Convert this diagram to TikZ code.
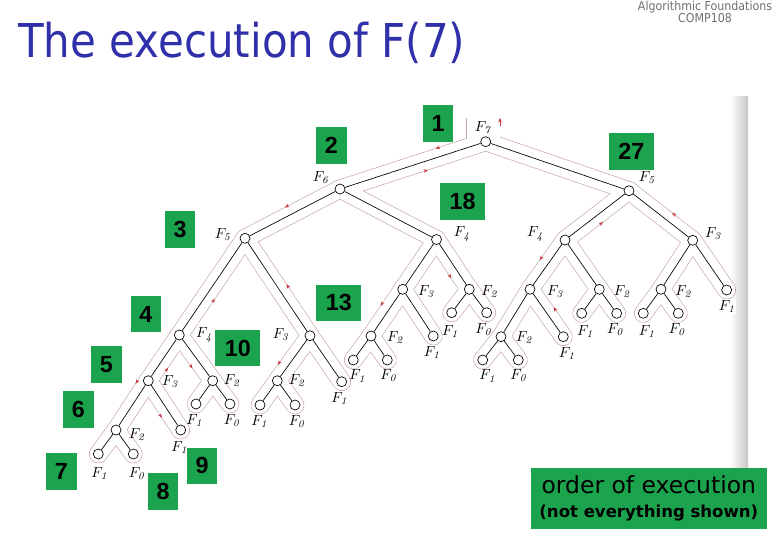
\documentclass[tikz,border=0pt]{standalone}
\usepackage{fontspec}
\newfontfamily\titlefont[FakeStretch=0.9]{DejaVu Sans}
\newfontfamily\numfont{Liberation Sans}
\newfontfamily\notefont{DejaVu Sans}
\usetikzlibrary{calc,arrows.meta,decorations.markings,backgrounds}
\definecolor{titleblue}{RGB}{48,48,170}
\definecolor{headgray}{RGB}{110,110,110}
\definecolor{boxgreen}{RGB}{28,163,78}
\definecolor{tourpink}{RGB}{200,165,170}
\definecolor{tourred}{RGB}{200,50,60}
\newcommand{\Fsub}[1]{$F_{\mathit{#1}}$}
% little red arrows on the tour: left side goes down, right side goes up
\newcommand{\tourdown}[3]{\path[decorate,decoration={markings,mark=at position #3 with {\draw[tourarr] (-2.5pt,-6.75pt) -- (0.5pt,-6.75pt);}}] (#1.center) -- (#2.center);}
\newcommand{\tourup}[3]{\path[decorate,decoration={markings,mark=at position #3 with {\draw[tourarr] (2.5pt,6.75pt) -- (-0.5pt,6.75pt);}}] (#1.center) -- (#2.center);}
\def\treeedges{v1/v2,v1/v3,v2/v4,v2/v5,v3/v6,v3/v7,v4/v8,v4/v9,v5/v10,v5/v11,v6/v12,v6/v13,v7/v14,v7/v15,v8/v16,v8/v17,v9/v18,v9/v19,v10/v20,v10/v21,v11/v22,v11/v23,v12/v24,v12/v25,v13/v26,v13/v27,v14/v28,v14/v29,v16/v30,v16/v31,v17/v32,v17/v33,v18/v34,v18/v35,v20/v36,v20/v37,v24/v38,v24/v39,v30/v40,v30/v41}
\begin{document}
\begin{tikzpicture}[x=0.75pt,y=-0.75pt,
  vert/.style={draw,circle,fill=white,line width=0.5pt,minimum size=7.5pt,inner sep=0pt},
  fib/.style={font=\fontsize{11}{13}\selectfont,inner sep=0pt},
  ordbox/.style={fill=boxgreen,minimum width=22.9pt,minimum height=27.4pt,inner sep=0pt,font=\numfont\bfseries\fontsize{17.5}{20}\selectfont},
  ordboxw/.style={ordbox,minimum width=33.8pt},
  tubeout/.style={draw=tourpink,line width=14pt,line cap=round,line join=round},
  tubein/.style={draw=white,line width=13pt,line cap=round,line join=round},
  tourarr/.style={draw=tourred,line width=0.4pt,-{Stealth[length=3.2pt,width=2.6pt]}}]
\useasboundingbox (0,0) rectangle (780,540);

\node[anchor=base west,inner sep=0pt,text=titleblue,font=\titlefont\fontsize{35}{40}\selectfont] (title) at (18,57) {The execution of F(7)};
\node[anchor=north,align=center,inner sep=0pt,text=headgray,font=\titlefont\fontsize{9.2}{9.3}\selectfont] (course) at (705,1) {Algorithmic Foundations\\COMP108};

% the recursion tree
\node[vert] (v1) at (485.7,141.7) {};
\node[vert] (v2) at (340,189) {};
\node[vert] (v3) at (629,190.7) {};
\node[vert] (v4) at (245,238.3) {};
\node[vert] (v5) at (436.5,239.5) {};
\node[vert] (v6) at (565,240) {};
\node[vert] (v7) at (692.7,240.3) {};
\node[vert] (v8) at (179.3,335) {};
\node[vert] (v9) at (310,335.7) {};
\node[vert] (v10) at (402.7,289.3) {};
\node[vert] (v11) at (469.3,289.3) {};
\node[vert] (v12) at (530,289.3) {};
\node[vert] (v13) at (599.3,289.3) {};
\node[vert] (v14) at (661,289.3) {};
\node[vert] (v15) at (726.7,290) {};
\node[vert] (v16) at (148.3,380.7) {};
\node[vert] (v17) at (212.7,380.7) {};
\node[vert] (v18) at (277.3,380.7) {};
\node[vert] (v19) at (341.7,381.7) {};
\node[vert] (v20) at (371,336) {};
\node[vert] (v21) at (433.3,336) {};
\node[vert] (v22) at (451.7,312.7) {};
\node[vert] (v23) at (486.7,312.7) {};
\node[vert] (v24) at (501,336.7) {};
\node[vert] (v25) at (563.3,336.7) {};
\node[vert] (v26) at (581.7,313.3) {};
\node[vert] (v27) at (616.7,313.3) {};
\node[vert] (v28) at (643.3,313.3) {};
\node[vert] (v29) at (678.3,313.3) {};
\node[vert] (v30) at (116,430) {};
\node[vert] (v31) at (180.7,430) {};
\node[vert] (v32) at (196,404) {};
\node[vert] (v33) at (230,404) {};
\node[vert] (v34) at (260,405) {};
\node[vert] (v35) at (295,405) {};
\node[vert] (v36) at (353.3,360) {};
\node[vert] (v37) at (387.3,360) {};
\node[vert] (v38) at (482.7,360) {};
\node[vert] (v39) at (518.3,360) {};
\node[vert] (v40) at (98.3,454) {};
\node[vert] (v41) at (133.3,454) {};
\foreach \a/\b in \treeedges
  \draw[line width=0.5pt] (\a)--(\b);

% labels
\node[fib] (f1) at (482.7,128) {\Fsub{7}};
\node[fib] (f2) at (320.7,178) {\Fsub{6}};
\node[fib] (f3) at (646.7,178) {\Fsub{5}};
\node[fib] (f4) at (222.7,234.3) {\Fsub{5}};
\node[fib] (f5) at (461.7,234) {\Fsub{4}};
\node[fib] (f6) at (535,234) {\Fsub{4}};
\node[fib] (f7) at (713,234) {\Fsub{3}};
\node[fib] (f8) at (204,335) {\Fsub{4}};
\node[fib] (f9) at (280.7,335) {\Fsub{3}};
\node[fib] (f10) at (426,291.7) {\Fsub{3}};
\node[fib] (f11) at (489.3,291.7) {\Fsub{2}};
\node[fib] (f12) at (555,291.7) {\Fsub{3}};
\node[fib] (f13) at (621.7,291.7) {\Fsub{2}};
\node[fib] (f14) at (683.3,291.7) {\Fsub{2}};
\node[fib,fill=white,inner sep=1pt] (f15) at (726.7,306.7) {\Fsub{1}};
\node[fib] (f16) at (170,381.7) {\Fsub{3}};
\node[fib] (f17) at (231.7,380.7) {\Fsub{2}};
\node[fib] (f18) at (296.7,380.7) {\Fsub{2}};
\node[fib] (f19) at (339.3,398.3) {\Fsub{1}};
\node[fib] (f20) at (395,337.3) {\Fsub{2}};
\node[fib] (f21) at (431.7,352.7) {\Fsub{1}};
\node[fib] (f22) at (450,331.7) {\Fsub{1}};
\node[fib] (f23) at (483.3,330) {\Fsub{0}};
\node[fib] (f24) at (524,337.3) {\Fsub{2}};
\node[fib] (f25) at (566.7,353.3) {\Fsub{1}};
\node[fib] (f26) at (585,331.7) {\Fsub{1}};
\node[fib] (f27) at (615,330) {\Fsub{0}};
\node[fib] (f28) at (646.7,331.7) {\Fsub{1}};
\node[fib] (f29) at (676.7,330) {\Fsub{0}};
\node[fib] (f30) at (136.7,435) {\Fsub{2}};
\node[fib] (f31) at (179.3,447.3) {\Fsub{1}};
\node[fib] (f32) at (194.3,420.7) {\Fsub{1}};
\node[fib] (f33) at (231.7,420.7) {\Fsub{0}};
\node[fib] (f34) at (259.3,421.7) {\Fsub{1}};
\node[fib] (f35) at (296.7,421.7) {\Fsub{0}};
\node[fib] (f36) at (357.3,376) {\Fsub{1}};
\node[fib] (f37) at (388.3,376) {\Fsub{0}};
\node[fib] (f38) at (487.3,376) {\Fsub{1}};
\node[fib] (f39) at (518.3,376) {\Fsub{0}};
\node[fib] (f40) at (99.3,473.3) {\Fsub{1}};
\node[fib] (f41) at (136.7,473.3) {\Fsub{0}};

% Euler tour round the tree
\coordinate (tourin) at (483.3,118);
\coordinate (tourout) at (500,118);
\begin{scope}[on background layer]
  \shade[left color=white,right color=black!22] (730,96) rectangle (748,478);
  \foreach \a/\b in \treeedges
    \draw[tubeout] (\a.center)--(\b.center);
  \draw[tubeout,line width=25.5pt,line cap=butt] (tourin |- v1.center)--(tourin);
  \foreach \a/\b in \treeedges
    \draw[tubein] (\a.center)--(\b.center);
  \draw[tubein,line width=24.5pt,line cap=butt] (tourin |- v1.center)--(tourin);
\end{scope}
\draw[tourarr] ($(tourout)+(0,8)$)--(tourout);
\tourdown{v1}{v2}{0.32}
\tourup{v1}{v2}{0.42}
\tourup{v3}{v7}{0.6}
\tourup{v3}{v6}{0.5}
\tourdown{v2}{v4}{0.53}
\tourup{v4}{v9}{0.53}
\tourup{v4}{v8}{0.58}
\tourup{v8}{v16}{0.62}
\tourdown{v8}{v17}{0.6}
\tourdown{v9}{v18}{0.75}
\tourdown{v16}{v30}{0.15}
\tourdown{v16}{v31}{0.64}
\tourdown{v10}{v20}{0.45}
\tourdown{v5}{v11}{0.667}
\tourdown{v6}{v12}{0.5}
\tourup{v12}{v25}{0.5}

% order of execution
\node[ordbox] (o1) at (438,123.3) {1};
\node[ordbox] (o2) at (331.3,145.3) {2};
\node[ordbox] (o3) at (180,229.7) {3};
\node[ordbox] (o4) at (145.8,314) {4};
\node[ordbox] (o5) at (106.3,364.3) {5};
\node[ordbox] (o6) at (78.3,409.3) {6};
\node[ordbox] (o7) at (61.3,471.3) {7};
\node[ordbox] (o8) at (163,491.3) {8};
\node[ordbox] (o9) at (202,465.8) {9};
\node[ordboxw] (o10) at (237.8,348) {10};
\node[ordboxw] (o13) at (338.8,302.8) {13};
\node[ordboxw] (o18) at (462.5,201.3) {18};
\node[ordboxw] (o27) at (631.3,151.3) {27};

\node[fill=boxgreen,minimum width=176.8pt,minimum height=45.5pt,inner sep=0pt,align=center,font=\notefont\fontsize{12.4}{18}\selectfont] (legend) at (648.8,498.7) {{\fontsize{17.6}{18}\selectfont order of execution}\\{\bfseries (not everything shown)}};
\end{tikzpicture}
\end{document}
